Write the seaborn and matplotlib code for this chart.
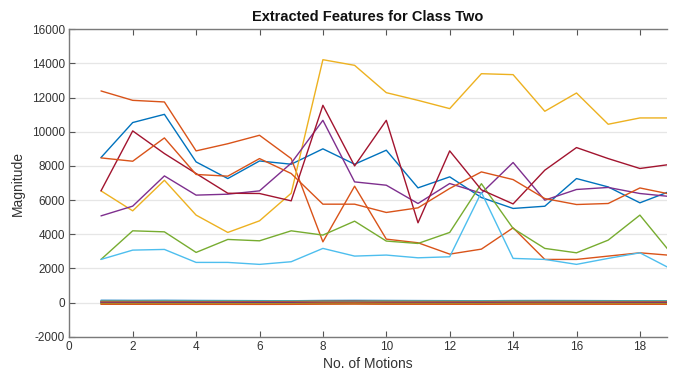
import matplotlib
matplotlib.use("Agg")
import matplotlib.pyplot as plt
import seaborn as sns
import pandas as pd

# ---------------- data ----------------
motions = list(range(1, 20))

feat_blue = [8490, 10540, 11020, 8235, 7260, 8290, 8100, 9000, 8100, 8920, 6715, 7360, 6150, 5510, 5640, 7260, 6770, 5840, 6550]
feat_orange_a = [12390, 11840, 11745, 8880, 9300, 9795, 8430, 3555, 6813, 3713, 3500, 2836, 3128, 4375, 2525, 2525, 2720, 2912, 2760]
feat_yellow = [6540, 5370, 7160, 5120, 4105, 4785, 6400, 14220, 13890, 12290, 11840, 11355, 13400, 13345, 11200, 12270, 10440, 10810, 10810]
feat_purple = [5075, 5645, 7415, 6290, 6345, 6540, 8160, 10670, 7065, 6870, 5800, 6970, 6400, 8200, 5995, 6620, 6740, 6385, 6200]
feat_green = [2525, 4200, 4140, 2935, 3695, 3615, 4200, 3950, 4765, 3600, 3460, 4105, 6960, 4340, 3170, 2912, 3655, 5120, 2850]
feat_lightblue = [2525, 3070, 3110, 2350, 2350, 2235, 2390, 3170, 2720, 2780, 2620, 2680, 6450, 2585, 2525, 2235, 2585, 2912, 1950]
feat_darkred = [6540, 10050, 8725, 7555, 6400, 6385, 5955, 11550, 8000, 10670, 4670, 8880, 6600, 5775, 7750, 9075, 8430, 7850, 8100]
feat_orange_b = [8470, 8275, 9640, 7500, 7400, 8430, 7555, 5760, 5760, 5275, 5545, 6680, 7650, 7200, 6090, 5740, 5800, 6710, 6330]

# small-magnitude features (bundle near zero)
small_1 = [130, 125, 128, 120, 115, 110, 105, 120, 125, 120, 115, 110, 105, 115, 118, 115, 110, 105, 100]
small_2 = [100, 95, 98, 92, 90, 85, 90, 100, 105, 98, 95, 90, 92, 95, 98, 95, 92, 90, 88]
small_3 = [80, 78, 75, 70, 72, 68, 70, 85, 90, 80, 75, 72, 70, 78, 80, 76, 72, 70, 68]
small_4 = [60, 58, 55, 52, 50, 48, 52, 70, 75, 62, 58, 55, 52, 60, 62, 58, 55, 52, 50]
small_5 = [40, 38, 36, 35, 32, 30, 34, 50, 55, 42, 40, 38, 35, 42, 44, 40, 38, 35, 34]
small_6 = [20, 18, 16, 15, 14, 12, 15, 30, 35, 25, 22, 20, 18, 24, 25, 22, 20, 18, 16]
small_7 = [0, -2, -4, -5, -6, -8, -5, 10, 15, 5, 2, 0, -2, 4, 5, 2, 0, -2, -4]
small_8 = [-20, -22, -24, -25, -26, -28, -25, -10, -5, -15, -18, -20, -22, -16, -15, -18, -20, -22, -24]
small_9 = [-40, -42, -44, -45, -46, -48, -45, -30, -25, -35, -38, -40, -42, -36, -35, -38, -40, -42, -44]
small_10 = [-60, -62, -64, -65, -66, -68, -65, -50, -45, -55, -58, -60, -62, -56, -55, -58, -60, -62, -64]
small_11 = [-80, -82, -84, -85, -86, -88, -85, -70, -65, -75, -78, -80, -82, -76, -75, -78, -80, -82, -84]
small_12 = [-100, -102, -104, -105, -106, -108, -105, -95, -90, -98, -100, -102, -104, -98, -96, -98, -100, -102, -104]

x_ticks = list(range(0, 19, 2))
y_ticks = list(range(-2000, 16001, 2000))

title_text = "Extracted Features for Class Two"
x_label = "No. of Motions"
y_label = "Magnitude"

# ---------------- style ----------------
c_blue = "#0072BD"
c_orange = "#D95319"
c_yellow = "#EDB120"
c_purple = "#7E2F8E"
c_green = "#77AC30"
c_lblue = "#4DBEEE"
c_dred = "#A2142F"

series = [
    (small_1, c_blue), (small_2, c_lblue), (small_3, c_green), (small_4, c_purple),
    (small_5, c_dred), (small_6, c_yellow), (small_7, c_blue), (small_8, c_purple),
    (small_9, c_dred), (small_10, c_yellow), (small_11, c_green), (small_12, c_orange),
    (feat_blue, c_blue), (feat_orange_a, c_orange), (feat_yellow, c_yellow),
    (feat_purple, c_purple), (feat_green, c_green), (feat_lightblue, c_lblue),
    (feat_darkred, c_dred), (feat_orange_b, c_orange),
]

sns.set_theme(style="white")
plt.rcParams["font.family"] = ["Liberation Sans", "DejaVu Sans"]
plt.rcParams["axes.unicode_minus"] = False

fig = plt.figure(figsize=(6.77, 3.76), dpi=100)
W, H = 677, 376
left, right, top, bottom = 69.3, 667.0, 29.3, 336.7
ax = fig.add_axes([left / W, 1 - bottom / H, (right - left) / W, (bottom - top) / H])

for vals, col in series:
    df = pd.DataFrame({"motion": motions, "value": vals})
    sns.lineplot(data=df, x="motion", y="value", color=col, linewidth=1.0, ax=ax, legend=False)

ax.set_xlim(0, (right - left) / 31.7)
ax.set_ylim(-2000, 16000)
ax.set_xticks(x_ticks)
ax.set_yticks(y_ticks)
ax.yaxis.grid(True, color="#e6e6e6", linewidth=0.9)
ax.xaxis.grid(False)
ax.set_axisbelow(True)

for s in ["left", "top", "bottom"]:
    ax.spines[s].set_color("#7a7a7a")
    ax.spines[s].set_linewidth(1.0)
ax.spines["right"].set_visible(False)

ax.tick_params(axis="both", direction="in", length=4, width=0.8, color="#555555",
               labelsize=8.5, labelcolor="#333333", top=True, bottom=True, left=True, right=False, pad=3)

ax.set_title(title_text, fontsize=10.5, fontweight="bold", color="#111111", pad=6)
ax.set_xlabel(x_label, fontsize=10, color="#333333", labelpad=3)
ax.set_ylabel(y_label, fontsize=10, color="#333333", labelpad=5)

fig.savefig("out.png", dpi=100)
